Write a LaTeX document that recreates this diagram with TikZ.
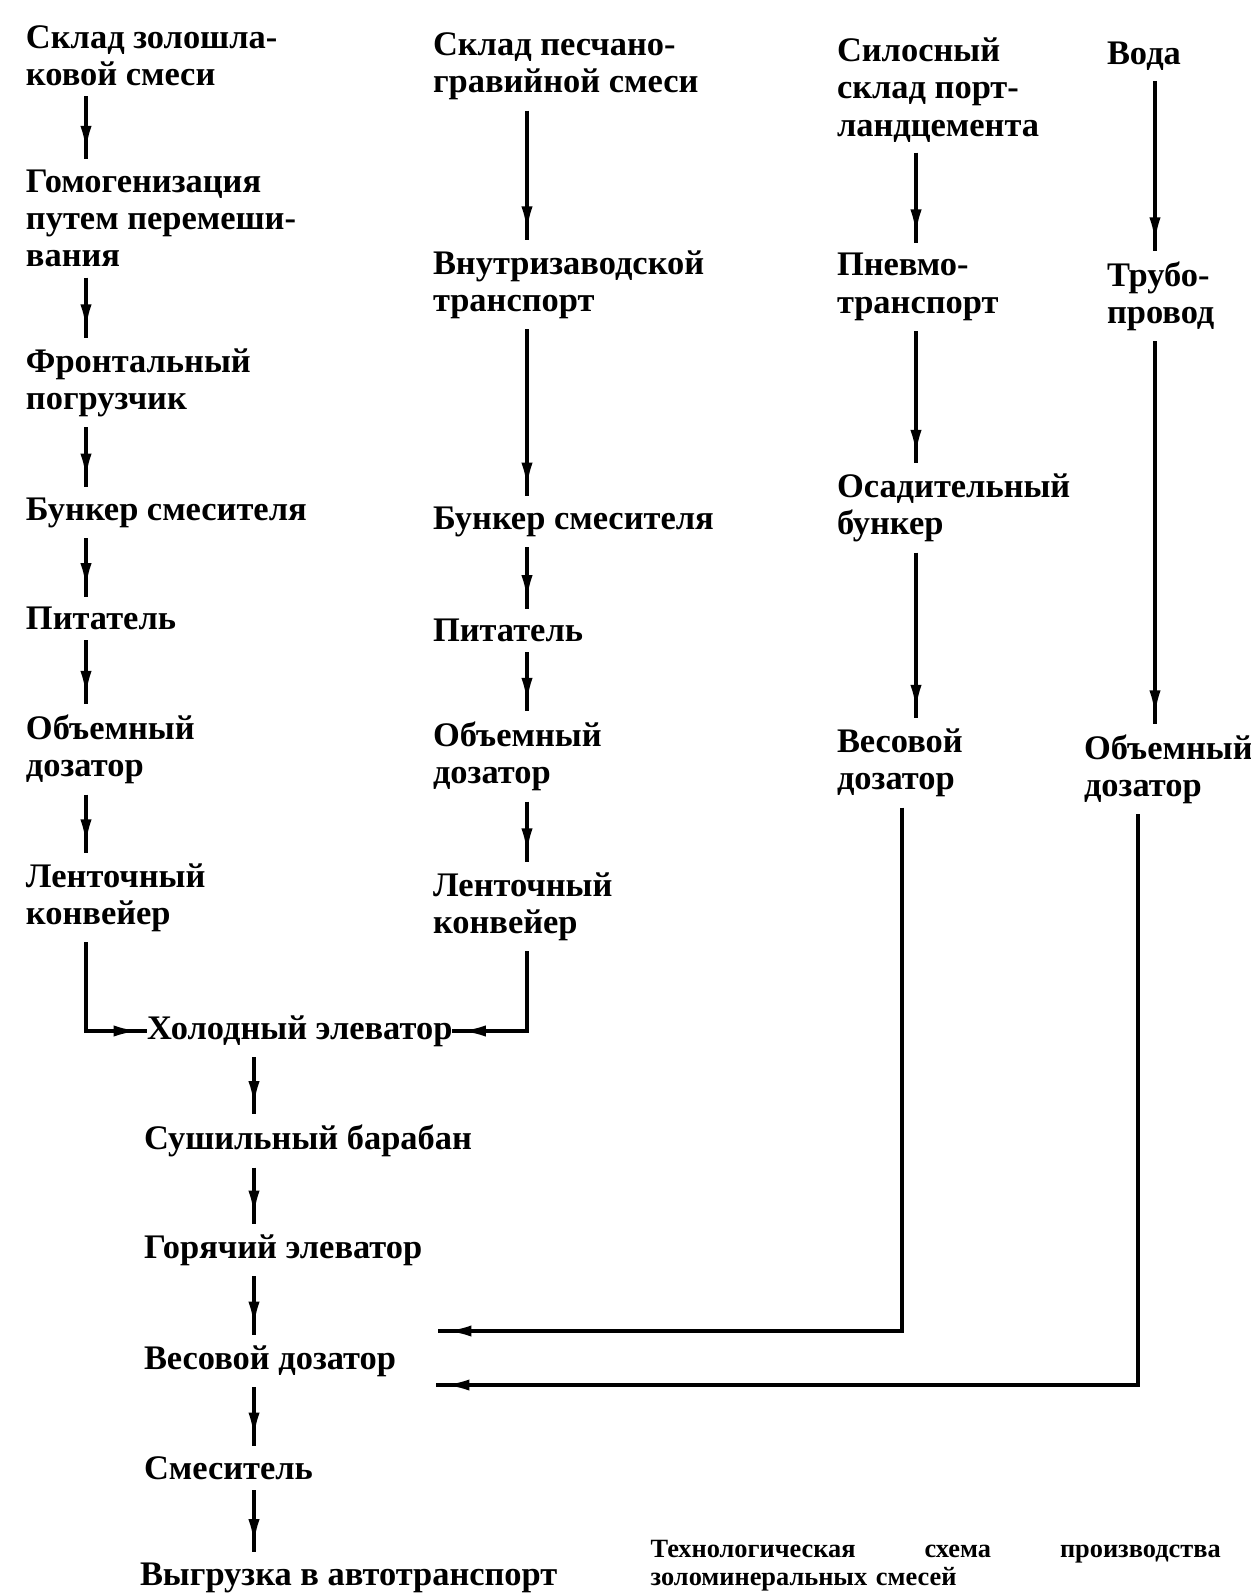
\documentclass[tikz,border=0pt]{standalone}
\usepackage{fontspec}
\setmainfont{Liberation Serif}
\usepackage{tikz}
\usetikzlibrary{positioning,arrows.meta,decorations.markings}

\begin{document}
\begin{tikzpicture}[on grid,
    lbl/.style={align=left,inner sep=0pt,outer xsep=0pt,outer ysep=3pt,
        font=\bfseries\fontsize{9.8pt}{10.6pt}\selectfont},
    note/.style={align=left,text width=5.7cm,inner sep=0pt,
        font=\bfseries\fontsize{7.5pt}{8pt}\selectfont},
    flow/.style={line width=0.9pt,decoration={markings,
        mark=at position -2.5pt with {\arrow{Latex[length=7pt,width=3.2pt]}}},
        postaction={decorate}}]
    \useasboundingbox (0,0) rectangle (12.5,-15.94);
    % x of the vertical connectors in each column
    \coordinate (a1) at (0.86,0);
    \coordinate (a2) at (5.27,0);
    \coordinate (a3) at (9.16,0);
    \coordinate (b3) at (9.02,0);
    \coordinate (a4) at (11.55,0);
    \coordinate (b4) at (11.38,0);
    \coordinate (a5) at (2.54,0);

    % \node[style] (name) [below=distance of name.west, anchor=west] {text};
    \node[lbl,anchor=west] (s1) at (0.26,-0.555) {Склад золошла-\\ковой смеси};
    \node[lbl] (g1) [below=1.63cm of s1.west,anchor=west] {Гомогенизация\\путем перемеши-\\вания};
    \node[lbl] (f1) [below=1.64cm of g1.west,anchor=west] {Фронтальный\\погрузчик};
    \node[lbl] (b1) [below=1.30cm of f1.west,anchor=west] {Бункер смесителя};
    \node[lbl] (p1) [below=1.06cm of b1.west,anchor=west] {Питатель};
    \node[lbl] (o1) [below=1.31cm of p1.west,anchor=west] {Объемный\\дозатор};
    \node[lbl] (l1) [below=1.48cm of o1.west,anchor=west] {Ленточный\\конвейер};

    \node[lbl,anchor=west] (s2) at (4.33,-0.665) {Склад песчано-\\гравийной смеси};
    \node[lbl] (t2) [below=2.18cm of s2.west,anchor=west] {Внутризаводской\\транспорт};
    \node[lbl] (b2) [below=2.37cm of t2.west,anchor=west] {Бункер смесителя};
    \node[lbl] (p2) [below=1.09cm of b2.west,anchor=west] {Питатель};
    \node[lbl] (o2) [below=1.26cm of p2.west,anchor=west] {Объемный\\дозатор};
    \node[lbl] (l2) [below=1.50cm of o2.west,anchor=west] {Ленточный\\конвейер};

    \node[lbl,anchor=west] (s3) at (8.37,-0.90) {Силосный\\склад порт-\\ландцемента};
    \node[lbl] (n3) [below=1.97cm of s3.west,anchor=west] {Пневмо-\\транспорт};
    \node[lbl] (d3) [below=2.21cm of n3.west,anchor=west] {Осадительный\\бункер};
    \node[lbl] (w3) [below=2.55cm of d3.west,anchor=west] {Весовой\\дозатор};

    \node[lbl,anchor=west] (v4) at (11.07,-0.56) {Вода};
    \node[lbl] (t4) [below=2.40cm of v4.west,anchor=west] {Трубо-\\провод};
    \node[lbl] (o4) [below=4.73cm of t4.west,anchor=west,xshift=-0.23cm] {Объемный\\дозатор};

    \node[lbl,anchor=west] (hx) at (1.47,-10.31) {Холодный элеватор};
    \node[lbl] (sb) [below=1.10cm of hx.west,anchor=west,xshift=-0.03cm] {Сушильный барабан};
    \node[lbl] (ge) [below=1.09cm of sb.west,anchor=west] {Горячий элеватор};
    \node[lbl] (vd) [below=1.11cm of ge.west,anchor=west] {Весовой дозатор};
    \node[lbl] (sm) [below=1.07cm of vd.west,anchor=west] {Смеситель};
    \node[lbl] (vg) [below=1.10cm of sm.west,anchor=west,xshift=-0.04cm] {Выгрузка в автотранспорт};

    \node[note,anchor=west] (cap) at (6.5,-15.66) {Технологическая\hfill схема\hfill производства\\золоминеральных смесей};

    % free ends of the two dosing lines
    \coordinate (in3) at ([shift={(0.42,0.3)}]vd.east);
    \coordinate (in4) at ([shift={(0.40,-0.24)}]vd.east);

    % (from.south -| x) -- (to.north -| x)
    \draw[flow] (s1.south -| a1) -- (g1.north -| a1);
    \draw[flow] (g1.south -| a1) -- (f1.north -| a1);
    \draw[flow] (f1.south -| a1) -- (b1.north -| a1);
    \draw[flow] (b1.south -| a1) -- (p1.north -| a1);
    \draw[flow] (p1.south -| a1) -- (o1.north -| a1);
    \draw[flow] (o1.south -| a1) -- (l1.north -| a1);
    \draw[flow] (l1.south -| a1) |- (hx.west);

    \draw[flow] (s2.south -| a2) -- (t2.north -| a2);
    \draw[flow] (t2.south -| a2) -- (b2.north -| a2);
    \draw[flow] (b2.south -| a2) -- (p2.north -| a2);
    \draw[flow] (p2.south -| a2) -- (o2.north -| a2);
    \draw[flow] (o2.south -| a2) -- (l2.north -| a2);
    \draw[flow] (l2.south -| a2) |- (hx.east);

    \draw[flow] (s3.south -| a3) -- (n3.north -| a3);
    \draw[flow] (n3.south -| a3) -- (d3.north -| a3);
    \draw[flow] (d3.south -| a3) -- (w3.north -| a3);
    \draw[flow] (w3.south -| b3) |- (in3);

    \draw[flow] (v4.south -| a4) -- (t4.north -| a4);
    \draw[flow] (t4.south -| a4) -- (o4.north -| a4);
    \draw[flow] (o4.south -| b4) |- (in4);

    \draw[flow] (hx.south -| a5) -- (sb.north -| a5);
    \draw[flow] (sb.south -| a5) -- (ge.north -| a5);
    \draw[flow] (ge.south -| a5) -- (vd.north -| a5);
    \draw[flow] (vd.south -| a5) -- (sm.north -| a5);
    \draw[flow] (sm.south -| a5) -- (vg.north -| a5);
\end{tikzpicture}
\end{document}
